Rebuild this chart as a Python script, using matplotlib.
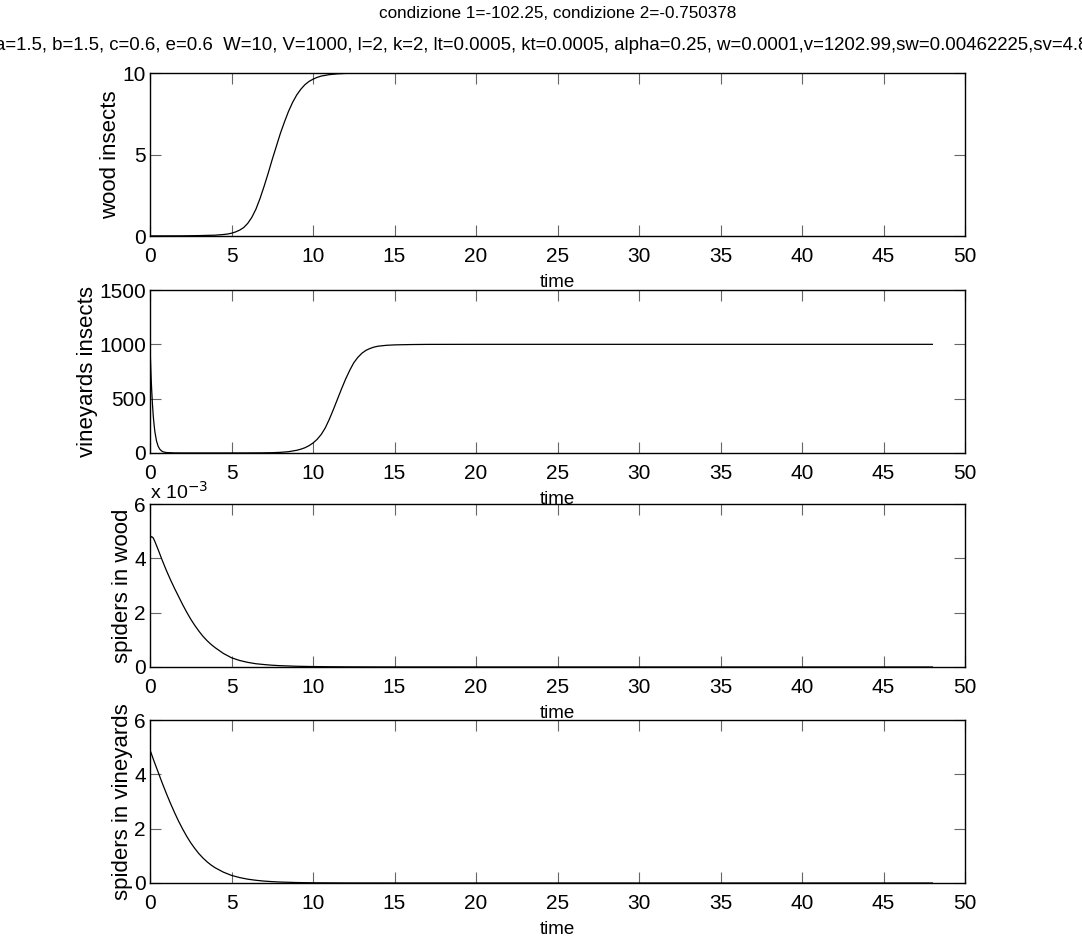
import numpy as np
import matplotlib
matplotlib.use('Agg')
import matplotlib.pyplot as plt

# values
t_wood = [0, 2, 3, 4, 4.25, 4.5, 4.75, 5, 5.25, 5.5, 5.75, 6, 6.25, 6.5, 6.75,
          7, 7.25, 7.5, 7.75, 8, 8.25, 8.5, 8.75, 9, 9.25, 9.5, 9.75, 10,
          10.25, 10.5, 11, 11.5, 12, 13, 14, 48]
wood_insects = [0.005, 0.01, 0.025, 0.05, 0.07, 0.09, 0.12, 0.17, 0.25, 0.36,
                0.52, 0.78, 1.15, 1.65, 2.3, 3.05, 3.85, 4.7, 5.5, 6.3, 7.0,
                7.65, 8.2, 8.65, 9.0, 9.28, 9.48, 9.62, 9.73, 9.81, 9.9, 9.95,
                9.975, 9.993, 10, 10]

t_vine = [0, 0.025, 0.05, 0.075, 0.1, 0.15, 0.2, 0.25, 0.3, 0.4, 0.5, 0.6,
          0.7, 0.8, 1.0, 1.5, 2, 4, 6, 7, 7.5, 8, 8.5, 9, 9.25, 9.5, 9.75,
          10, 10.25, 10.5, 10.75, 11, 11.25, 11.5, 11.75, 12, 12.25, 12.5,
          12.75, 13, 13.25, 13.5, 13.75, 14, 14.5, 15, 16, 17, 20, 48]
vine_insects = [1000, 880, 770, 670, 590, 450, 340, 260, 195, 110, 62, 35,
                20, 11, 4, 1, 0.4, 0.2, 0.6, 1.5, 3, 6, 12, 25, 35, 48, 67,
                92, 125, 170, 230, 310, 400, 495, 590, 680, 760, 830, 880,
                918, 945, 962, 975, 983, 991, 995, 998, 999.5, 1000, 1000]

# spiders, in units of 1e-3
t_sw = [0, 0.1, 0.2, 0.3, 0.4, 0.5, 0.75, 1, 1.25, 1.5, 1.75, 2, 2.25, 2.5,
        2.75, 3, 3.25, 3.5, 3.75, 4, 4.5, 5, 5.5, 6, 6.5, 7, 7.5, 8, 9, 10,
        11, 12, 14, 17, 20, 48]
spiders_wood = [4.75, 4.8, 4.75, 4.62, 4.47, 4.32, 3.93, 3.56, 3.22, 2.9,
                2.6, 2.3, 2.02, 1.76, 1.53, 1.32, 1.13, 0.97, 0.83, 0.71,
                0.5, 0.34, 0.24, 0.17, 0.12, 0.09, 0.065, 0.048, 0.027, 0.016,
                0.01, 0.006, 0.002, 0.001, 0.0005, 0]

t_sv = [0, 0.25, 0.5, 0.75, 1, 1.25, 1.5, 1.75, 2, 2.25, 2.5, 2.75, 3, 3.25,
        3.5, 3.75, 4, 4.5, 5, 5.5, 6, 6.5, 7, 7.5, 8, 9, 10, 12, 15, 20, 48]
spiders_vine = [4.9, 4.48, 4.08, 3.68, 3.3, 2.94, 2.6, 2.28, 1.99, 1.72, 1.48,
                1.27, 1.08, 0.92, 0.78, 0.66, 0.56, 0.4, 0.28, 0.2, 0.14,
                0.1, 0.07, 0.05, 0.035, 0.017, 0.008, 0.002, 0.0005, 0, 0]

x_ticks = [0, 5, 10, 15, 20, 25, 30, 35, 40, 45, 50]
titles = ["condizione 1=-102.25, condizione 2=-0.750378",
          "a=1.5, b=1.5, c=0.6, e=0.6  W=10, V=1000, l=2, k=2, lt=0.0005, "
          "kt=0.0005, alpha=0.25, w=0.0001,v=1202.99,sw=0.00462225,sv=4.8e-005"]

panels = [
    (t_wood, wood_insects, "wood insects", (0, 10), [0, 5, 10]),
    (t_vine, vine_insects, "vineyards insects", (0, 1500), [0, 500, 1000, 1500]),
    (t_sw, spiders_wood, "spiders in wood", (0, 6), [0, 2, 4, 6]),
    (t_sv, spiders_vine, "spiders in vineyards", (0, 6), [0, 2, 4, 6]),
]

plt.rcParams['font.family'] = ['Liberation Sans', 'DejaVu Sans']
plt.rcParams['axes.unicode_minus'] = False

W, H = 1082, 943
fig = plt.figure(figsize=(W / 100, H / 100), dpi=100)

left, right = 150, 965
tops = [73, 290, 504, 720]
height = 163

axes = []
for (t, y, lab, ylim, yt), top in zip(panels, tops):
    ax = fig.add_axes([left / W, 1 - (top + height) / H, (right - left) / W, height / H])
    ax.plot(t, y, color='black', lw=0.9)
    ax.set_xlim(0, 50)
    ax.set_ylim(*ylim)
    ax.set_xticks(x_ticks)
    ax.set_yticks(yt)
    ax.tick_params(direction='in', length=8, width=0.8, color='0.4',
                   top=True, right=True, labelsize=15)
    ax.tick_params(axis='x', pad=8)
    ax.tick_params(axis='y', pad=3)
    for s in ax.spines.values():
        s.set_linewidth(1.0)
    ax.set_xlabel("time", fontsize=13.5, labelpad=6)
    ax.set_ylabel(lab, fontsize=16, labelpad=1)
    axes.append(ax)

axes[2].text(0, 1.01, r"x 10$^{-3}$", transform=axes[2].transAxes,
             fontsize=14, ha='left', va='bottom')

fig.text((left + right) / 2 / W, 1 - 13 / H, titles[0], ha='center', va='center', fontsize=12.3)
fig.text(-5 / W, 1 - 45 / H, titles[1], ha='left', va='center', fontsize=13.4)

fig.savefig("out.png", dpi=100)
